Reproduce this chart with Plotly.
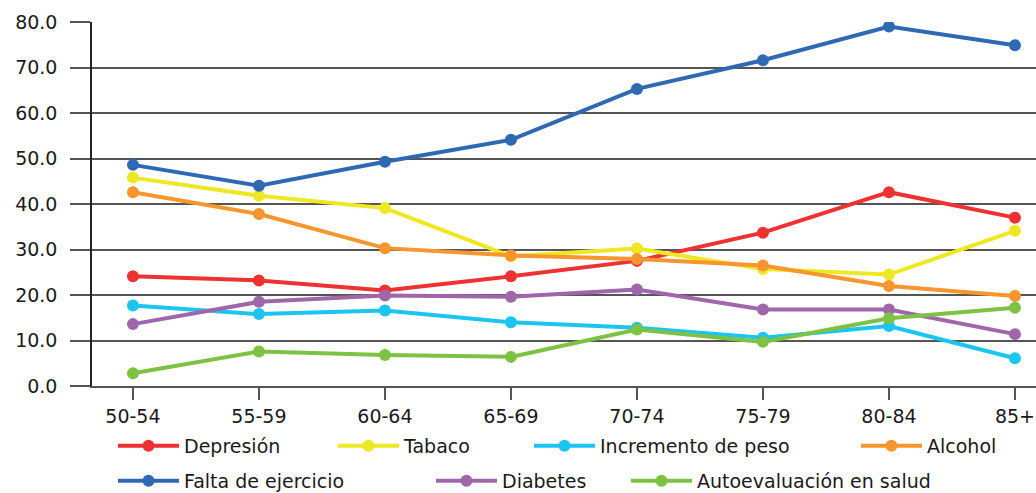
import plotly.graph_objects as go

age_groups = ["50-54", "55-59", "60-64", "65-69", "70-74", "75-79", "80-84", "85+"]

depresion = [24.1, 23.2, 21.0, 24.1, 27.5, 33.7, 42.6, 37.0]
tabaco = [45.8, 41.8, 39.1, 28.5, 30.2, 25.7, 24.5, 34.1]
incremento_peso = [17.7, 15.8, 16.6, 14.0, 12.8, 10.6, 13.2, 6.1]
alcohol = [42.6, 37.8, 30.3, 28.7, 27.9, 26.5, 22.0, 19.8]
falta_ejercicio = [48.6, 44.0, 49.3, 54.1, 65.3, 71.6, 79.0, 74.9]
diabetes = [13.6, 18.5, 19.9, 19.6, 21.2, 16.8, 16.8, 11.4]
autoevaluacion = [2.8, 7.6, 6.8, 6.4, 12.4, 9.7, 14.9, 17.2]

y_ticks = [0, 10, 20, 30, 40, 50, 60, 70, 80]

series = [
    ("Depresión", depresion, "#EE3131", "legend"),
    ("Tabaco", tabaco, "#EEE824", "legend2"),
    ("Incremento de peso", incremento_peso, "#1CC4F0", "legend3"),
    ("Alcohol", alcohol, "#F7962E", "legend4"),
    ("Falta de ejercicio", falta_ejercicio, "#2F69B3", "legend5"),
    ("Diabetes", diabetes, "#A066AA", "legend6"),
    ("Autoevaluación en salud", autoevaluacion, "#7DC243", "legend7"),
]

FONT = "DejaVu Sans"
TEXT = "#1a1a1a"
W, H = 1036, 493

fig = go.Figure()
x_idx = list(range(len(age_groups)))
for name, vals, color, leg in series:
    fig.add_trace(go.Scatter(
        x=x_idx, y=vals, name=name, mode="lines+markers",
        line=dict(color=color, width=4),
        marker=dict(color=color, size=12),
        legend=leg,
    ))

# one legend per entry so each can sit at its own column (pixel anchors)
legend_px = {
    "legend": (113, 446),
    "legend2": (333, 446),
    "legend3": (529, 446),
    "legend4": (856, 446),
    "legend5": (113, 481),
    "legend6": (431, 481),
    "legend7": (626, 481),
}
legend_layout = {}
for key, (px, py) in legend_px.items():
    legend_layout[key] = dict(
        x=px / W, y=1 - py / H, xref="container", yref="container",
        xanchor="left", yanchor="middle",
        orientation="h", bgcolor="rgba(0,0,0,0)",
        itemwidth=61,
        font=dict(family=FONT, size=19, color=TEXT),
    )

fig.update_layout(
    width=W, height=H,
    margin=dict(l=92, r=0, t=22, b=107, autoexpand=False),
    paper_bgcolor="white", plot_bgcolor="white",
    font=dict(family=FONT, size=19, color=TEXT),
    showlegend=True,
    **legend_layout,
)

fig.update_xaxes(
    tickmode="array", tickvals=x_idx, ticktext=age_groups,
    range=[-0.325, 7.167],
    showgrid=False, zeroline=False,
    showline=True, linecolor="#555555", linewidth=1.5,
    ticks="outside", ticklen=12, tickwidth=1.5, tickcolor="#555555",
    tickfont=dict(family=FONT, size=19, color=TEXT),
)
fig.update_yaxes(
    range=[0, 80], tickvals=y_ticks, tickformat=".1f",
    showgrid=True, gridcolor="#555555", gridwidth=1.5,
    zeroline=False,
    showline=True, linecolor="#222222", linewidth=1.5,
    ticks="outside", ticklen=20, tickwidth=1.5, tickcolor="#555555",
    ticklabelstandoff=9,
    tickfont=dict(family=FONT, size=19, color=TEXT),
)

fig.write_html("out.html")
